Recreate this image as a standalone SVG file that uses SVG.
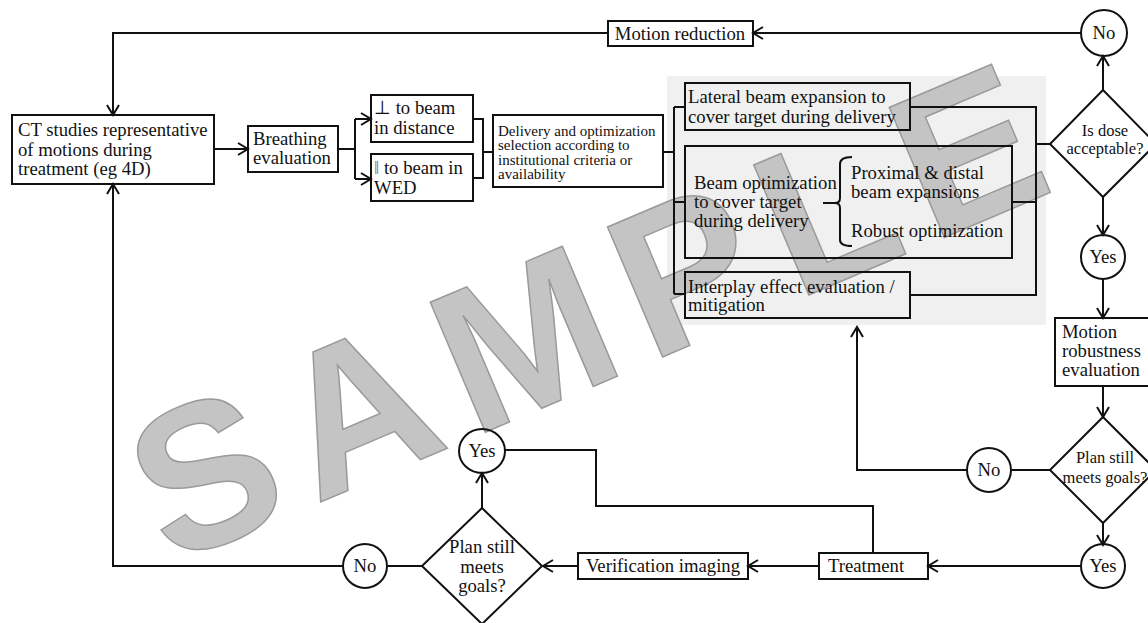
<svg xmlns="http://www.w3.org/2000/svg" width="1148" height="623" viewBox="0 0 1148 623">
<style>
.b{fill:none;stroke:#111;stroke-width:2}
.c{fill:none;stroke:#111;stroke-width:2}
.t{font-family:"Liberation Serif","Times New Roman",serif;font-size:18.7px;fill:#111}
.s{font-family:"Liberation Serif","Times New Roman",serif;font-size:16.5px;fill:#111}
.d{font-family:"Liberation Serif","Times New Roman",serif;font-size:15px;fill:#111}
.m{text-anchor:middle}
</style>
<defs>
<marker id="a" markerUnits="userSpaceOnUse" markerWidth="14" markerHeight="14" refX="11" refY="7" orient="auto">
<path d="M1,1 L11,7 L1,13" fill="none" stroke="#111" stroke-width="2"/>
</marker>
</defs>
<rect width="1148" height="623" fill="#fff"/>
<rect id="panel" x="667" y="76" width="379" height="249" fill="#f0f0f0"/>
<g id="watermark" transform="translate(170,566) rotate(-23)">
<text x="0" y="0" font-family="Liberation Sans,Arial,sans-serif" font-size="205" font-weight="bold" letter-spacing="22" fill="#c4c4c4" stroke="#9a9a9a" stroke-width="1.5">SAMPLE</text>
</g>
<g id="connectors" class="c">
<path d="M1081,33 H753" marker-end="url(#a)"/>
<path d="M608,33 H113 V115" marker-end="url(#a)"/>
<path d="M214,149 H248" marker-end="url(#a)"/>
<path d="M338,149 H355 M355,119 V179"/>
<path d="M355,119 H371" marker-end="url(#a)"/>
<path d="M355,179 H371" marker-end="url(#a)"/>
<path d="M473,119 H483 V178 H473 M483,152 H493"/>
<path d="M663,152 H674 M674,107 V294 M674,107 H685 M674,202 H685 M674,294 H685"/>
<path d="M910,107 H1036 V295 H910 M1012,202 H1036 M1036,144 H1050"/>
<path d="M1103,90 V56" marker-end="url(#a)"/>
<path d="M1103,197 V235" marker-end="url(#a)"/>
<path d="M1103,279 V318" marker-end="url(#a)"/>
<path d="M1103,386 V417" marker-end="url(#a)"/>
<path d="M1103,523 V545" marker-end="url(#a)"/>
<path d="M1050,470 H1011"/>
<path d="M967,470 H857 V327" marker-end="url(#a)"/>
<path d="M1081,566 H928" marker-end="url(#a)"/>
<path d="M819,566 H748" marker-end="url(#a)"/>
<path d="M873,553 V506 H596 V450 H505"/>
<path d="M578,566 H543" marker-end="url(#a)"/>
<path d="M482,508 V473" marker-end="url(#a)"/>
<path d="M422,566 H387"/>
<path d="M343,566 H113 V184" marker-end="url(#a)"/>
</g>
<g id="ct">
<rect class="b" x="12" y="115" width="202" height="69"/>
<text class="t" x="18" y="136">CT studies representative</text>
<text class="t" x="18" y="156">of motions during</text>
<text class="t" x="18" y="175">treatment (eg 4D)</text>
</g>
<g id="breathing">
<rect class="b" x="248" y="126" width="90" height="46"/>
<text class="t" x="253" y="145">Breathing</text>
<text class="t" x="253" y="164">evaluation</text>
</g>
<g id="perp">
<rect class="b" x="371" y="95" width="102" height="47"/>
<text class="t" x="374" y="114">⊥ to beam</text>
<text class="t" x="374" y="134">in distance</text>
</g>
<g id="par">
<rect class="b" x="371" y="154" width="102" height="47"/>
<text class="t" x="374" y="174"><tspan fill="#777">‖</tspan> to beam in</text>
<text class="t" x="374" y="194">WED</text>
</g>
<g id="delivery">
<rect class="b" x="493" y="115" width="170" height="72"/>
<text class="d" x="498" y="136">Delivery and optimization</text>
<text class="d" x="498" y="150">selection according to</text>
<text class="d" x="498" y="165">institutional criteria or</text>
<text class="d" x="498" y="179">availability</text>
</g>
<g id="lateral">
<rect class="b" x="685" y="83" width="225" height="47"/>
<text class="t" x="688" y="103">Lateral beam expansion to</text>
<text class="t" x="688" y="123">cover target during delivery</text>
</g>
<g id="beamopt">
<rect class="b" x="685" y="146" width="327" height="112"/>
<text class="t" x="694" y="189">Beam optimization</text>
<text class="t" x="694" y="208">to cover target</text>
<text class="t" x="694" y="227">during delivery</text>
<path class="b" d="M823,203 H836 M852,157 Q840,157 840,164 V198 Q840,203 835,203 Q840,203 840,208 V240 Q840,246 852,246"/>
<text class="t" x="851" y="179">Proximal &amp; distal</text>
<text class="t" x="851" y="198">beam expansions</text>
<text class="t" x="851" y="237">Robust optimization</text>
</g>
<g id="interplay">
<rect class="b" x="685" y="272" width="225" height="46"/>
<text class="t" x="688" y="293">Interplay  effect evaluation /</text>
<text class="t" x="688" y="311">mitigation</text>
</g>
<g id="motionreduction">
<rect class="b" x="608" y="21" width="145" height="25"/>
<text class="t m" x="680" y="40">Motion reduction</text>
</g>
<g id="no1">
<circle class="b" cx="1104" cy="33" r="23"/>
<text class="t m" x="1104" y="39">No</text>
</g>
<g id="dose">
<path class="b" d="M1103,90 L1156,144 L1103,197 L1050,144 Z"/>
<text class="s m" x="1105" y="136">Is dose</text>
<text class="s m" x="1105" y="154">acceptable?</text>
</g>
<g id="yes1">
<circle class="b" cx="1103" cy="257" r="22"/>
<text class="t m" x="1103" y="263">Yes</text>
</g>
<g id="robust">
<rect class="b" x="1055" y="318" width="100" height="68"/>
<text class="t" x="1062" y="338">Motion</text>
<text class="t" x="1062" y="357">robustness</text>
<text class="t" x="1062" y="376">evaluation</text>
</g>
<g id="goals1">
<path class="b" d="M1103,417 L1156,470 L1103,523 L1050,470 Z"/>
<text class="s m" x="1105" y="463">Plan still</text>
<text class="s m" x="1105" y="483">meets goals?</text>
</g>
<g id="no2">
<circle class="b" cx="989" cy="470" r="22"/>
<text class="t m" x="989" y="476">No</text>
</g>
<g id="yes2">
<circle class="b" cx="1103" cy="566" r="22"/>
<text class="t m" x="1103" y="572">Yes</text>
</g>
<g id="treatment">
<rect class="b" x="819" y="553" width="109" height="26"/>
<text class="t" x="828" y="572">Treatment</text>
</g>
<g id="verification">
<rect class="b" x="578" y="553" width="170" height="26"/>
<text class="t m" x="663" y="572">Verification imaging</text>
</g>
<g id="goals2">
<path class="b" d="M482,508 L542,566 L482,624 L422,566 Z"/>
<text class="t m" x="482" y="553">Plan still</text>
<text class="t m" x="482" y="573">meets</text>
<text class="t m" x="482" y="592">goals?</text>
</g>
<g id="yes3">
<ellipse class="b" cx="482" cy="451" rx="23" ry="22"/>
<text class="t m" x="482" y="457">Yes</text>
</g>
<g id="no3">
<circle class="b" cx="365" cy="566" r="22"/>
<text class="t m" x="365" y="572">No</text>
</g>
</svg>
